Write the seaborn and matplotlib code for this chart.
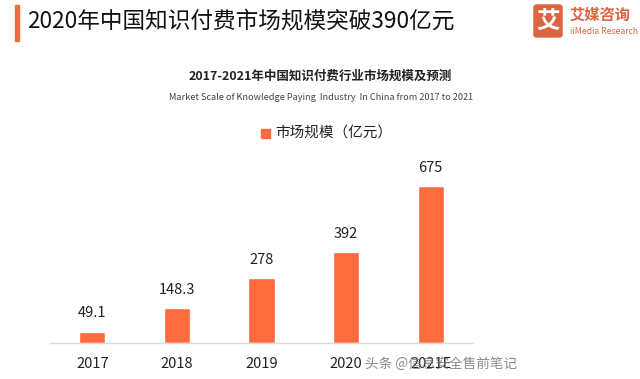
import matplotlib
matplotlib.use("Agg")
import matplotlib.pyplot as plt
import matplotlib.patches as mpatches
import pandas as pd
import seaborn as sns

# Data
years = ["2017", "2018", "2019", "2020", "2021E"]
tick_labels = ["2017", "2018", "2019", "2020", "2021E"]
market_size = [49.1, 148.3, 278, 392, 675]
value_labels = ["49.1", "148.3", "278", "392", "675"]

title = "2020年中国知识付费市场规模突破390亿元"
subtitle_cn = "2017-2021年中国知识付费行业市场规模及预测"
subtitle_en = "Market Scale of Knowledge Paying  Industry  In China from 2017 to 2021"
legend_label = "市场规模（亿元）"
watermark = "头条 @信息安全售前笔记"

bar_color = "#FF6B3D"
logo_color = "#DC6440"

sns.set_style("white")
plt.rcParams["font.family"] = ["Noto Sans CJK SC", "DejaVu Sans"]

df = pd.DataFrame({"year": years, "value": market_size})

fig = plt.figure(figsize=(6.4, 3.79), dpi=100)
ax = fig.add_axes([50 / 640, 36 / 379, 423 / 640, 174.5 / 379])

sns.barplot(data=df, x="year", y="value", color=bar_color, width=0.31,
            saturation=1, ax=ax)

ax.set_xlim(-0.5, 4.5)
ax.set_ylim(0, 750)
ax.set_xlabel("")
ax.set_ylabel("")
ax.set_yticks([])
ax.set_xticks(range(len(tick_labels)))
ax.set_xticklabels(tick_labels, fontsize=10.5, color="#222222")
ax.tick_params(axis="x", length=0, pad=10)
for s in ["top", "right", "left"]:
    ax.spines[s].set_visible(False)
ax.spines["bottom"].set_color("#d9d9d9")
ax.spines["bottom"].set_linewidth(1)

for i, (v, lab) in enumerate(zip(market_size, value_labels)):
    ax.annotate(lab, (i, v), xytext=(0, 8), textcoords="offset points",
                ha="center", va="bottom", fontsize=10.5, color="#222222")

# header
fig.patches.append(mpatches.Rectangle((15 / 640, 1 - 41 / 379), 4 / 640, 36 / 379,
                                      transform=fig.transFigure, color="#F26A3C"))
fig.text(27 / 640, 1 - 21 / 379, title, fontsize=16.3, va="center", ha="left",
         color="#111111")

# logo
fig.patches.append(mpatches.FancyBboxPatch((534 / 640, 1 - 37 / 379), 28 / 640, 32 / 379,
                                           boxstyle="round,pad=0,rounding_size=0.005",
                                           transform=fig.transFigure, color=logo_color))
fig.text(548 / 640, 1 - 21 / 379, "艾", fontsize=17, fontweight="bold", color="white",
         ha="center", va="center")
fig.text(570 / 640, 1 - 15 / 379, "艾媒咨询", fontsize=11, fontweight="bold",
         color=logo_color, ha="left", va="center")
fig.text(570 / 640, 1 - 31 / 379, "iiMedia Research", fontsize=6.2,
         color=logo_color, ha="left", va="center")

# subtitles and legend
fig.text(320 / 640, 1 - 76 / 379, subtitle_cn, fontsize=9, fontweight="bold",
         ha="center", va="center", color="#222222")
fig.text(321 / 640, 1 - 97 / 379, subtitle_en, fontsize=6.6,
         ha="center", va="center", color="#444444")
fig.patches.append(mpatches.Rectangle((261 / 640, 1 - 138 / 379), 9 / 640, 9 / 379,
                                      transform=fig.transFigure, color=bar_color))
fig.text(275 / 640, 1 - 133 / 379, legend_label, fontsize=10.5,
         ha="left", va="center", color="#222222")

# watermark (it sits over the last tick label in the source image too)
fig.text(365 / 640, 1 - 364 / 379, watermark, fontsize=9.8, ha="left", va="center",
         color="#777777", alpha=0.85, zorder=10)

fig.savefig("out.png", dpi=100, facecolor="white")
